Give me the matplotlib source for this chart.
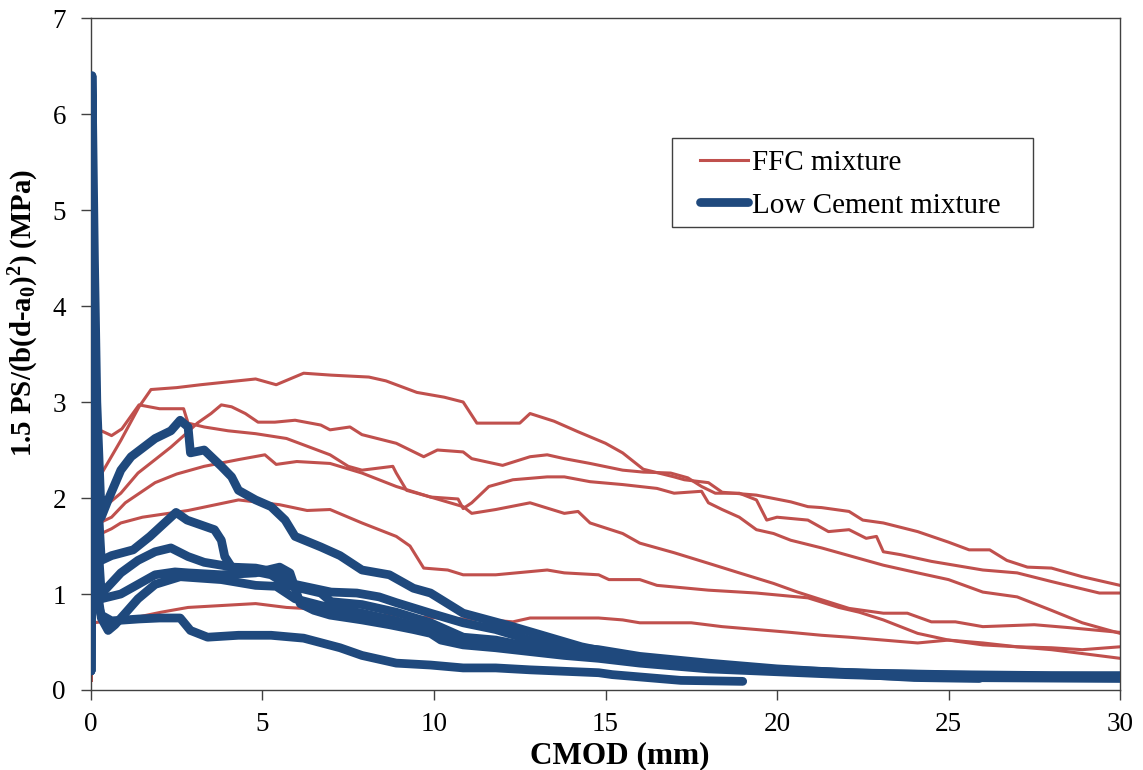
import matplotlib
matplotlib.use("Agg")
import matplotlib.pyplot as plt
from matplotlib.patches import Rectangle
from matplotlib.legend_handler import HandlerLine2D
import numpy as np

plt.rcParams['font.family'] = ['Liberation Serif', 'DejaVu Serif']
plt.rcParams['mathtext.fontset'] = 'custom'
plt.rcParams['mathtext.rm'] = 'Liberation Serif:bold'
plt.rcParams['mathtext.it'] = 'Liberation Serif:bold'
plt.rcParams['mathtext.bf'] = 'Liberation Serif:bold'

# ---------------- data ----------------
ffc1_x = [0, 0.08, 0.3, 0.87, 1.4, 1.75, 2.5, 3.2, 4.0, 4.8, 5.4, 6.2, 7.0, 8.1, 8.6, 9.5, 10.3, 10.85,
          11.25, 12.5, 12.8, 13.5, 14.2, 15.0, 15.5, 16.1, 17.0, 17.3, 18.0, 18.4, 19.4, 20.4, 20.9, 21.3,
          22.1, 22.5, 23.1, 24.1, 25.0, 25.6, 26.2, 26.7, 27.3, 28.0, 28.9, 30.0]
ffc1_y = [0.1, 2.2, 2.25, 2.6, 2.95, 3.13, 3.15, 3.18, 3.21, 3.24, 3.18, 3.3, 3.28, 3.26, 3.22, 3.1, 3.05, 3.0,
          2.78, 2.78, 2.88, 2.8, 2.69, 2.57, 2.47, 2.3, 2.22, 2.19, 2.16, 2.06, 2.03, 1.96, 1.91, 1.90,
          1.86, 1.77, 1.74, 1.65, 1.54, 1.46, 1.46, 1.35, 1.28, 1.27, 1.18, 1.09]

ffc2_x = [0, 0.08, 0.3, 0.6, 0.9, 1.4, 2.0, 2.7, 2.83, 3.3, 4.0, 4.8, 5.7, 6.0, 6.97, 7.5, 7.9, 8.8, 8.9,
          9.2, 9.9, 10.7, 10.85, 11.1, 11.6, 12.3, 13.3, 13.8, 14.55, 15.5, 16.5, 17.0, 17.8, 18.0, 18.4,
          18.9, 19.4, 19.9, 20.4, 21.3, 22.1, 23.1, 24.1, 25.0, 26.0, 27.0, 28.0, 28.9, 30.0]
ffc2_y = [0.1, 2.7, 2.7, 2.65, 2.72, 2.97, 2.93, 2.93, 2.78, 2.74, 2.7, 2.67, 2.62, 2.58, 2.45, 2.33, 2.29,
          2.33, 2.26, 2.08, 2.01, 1.99, 1.89, 1.95, 2.12, 2.19, 2.22, 2.22, 2.17, 2.14, 2.10, 2.05, 2.07,
          1.95, 1.88, 1.80, 1.67, 1.63, 1.56, 1.48, 1.40, 1.30, 1.22, 1.15, 1.02, 0.97, 0.83, 0.70, 0.59]

ffc3_x = [0, 0.08, 0.3, 0.87, 1.37, 1.87, 2.33, 2.74, 3.1, 3.5, 3.8, 4.1, 4.5, 4.87, 5.36, 5.95, 6.7,
          6.97, 7.55, 7.9, 8.9, 9.7, 10.1, 10.85, 11.1, 12.0, 12.8, 13.3, 13.8, 14.55, 15.5, 16.1, 16.9,
          17.4, 17.8, 18.2, 18.9, 19.4, 19.7, 20.0, 20.9, 21.5, 22.1, 22.6, 22.9, 23.1, 23.6, 24.5,
          26.0, 27.0, 28.0, 29.4, 30.0]
ffc3_y = [0.1, 1.9, 1.88, 2.05, 2.26, 2.4, 2.53, 2.66, 2.78, 2.88, 2.97, 2.95, 2.88, 2.79, 2.79, 2.81, 2.76,
          2.71, 2.74, 2.66, 2.57, 2.43, 2.5, 2.48, 2.41, 2.34, 2.43, 2.45, 2.41, 2.36, 2.29, 2.27, 2.26,
          2.21, 2.12, 2.05, 2.05, 1.98, 1.77, 1.80, 1.77, 1.65, 1.67, 1.58, 1.60, 1.44, 1.41, 1.34,
          1.25, 1.22, 1.13, 1.01, 1.01]

ffc4_x = [0, 0.08, 0.3, 0.6, 1.0, 1.87, 2.5, 3.3, 4.3, 5.07, 5.4, 6.0, 6.97, 7.9, 8.9, 9.9, 10.85, 11.1,
          11.8, 12.8, 13.8, 14.2, 14.55, 15.5, 16.0, 17.0, 18.0, 18.9, 19.9, 20.6, 21.3, 22.1, 23.1,
          23.8, 24.5, 25.2, 26.0, 27.5, 28.5, 29.4, 30.0]
ffc4_y = [0.1, 1.72, 1.75, 1.8, 1.95, 2.16, 2.25, 2.33, 2.4, 2.45, 2.35, 2.38, 2.36, 2.26, 2.12, 2.01, 1.91,
          1.84, 1.88, 1.95, 1.84, 1.86, 1.74, 1.63, 1.53, 1.43, 1.32, 1.22, 1.11, 1.02, 0.94, 0.85, 0.80,
          0.80, 0.71, 0.71, 0.66, 0.68, 0.65, 0.62, 0.60]

ffc5_x = [0, 0.08, 0.3, 0.6, 0.87, 1.5, 2.83, 4.3, 5.5, 6.3, 6.97, 7.9, 8.9, 9.3, 9.7, 10.4, 10.85, 11.8,
          13.3, 13.8, 14.8, 15.1, 16.0, 16.5, 18.0, 19.4, 20.9, 21.8, 22.4, 23.1, 24.1, 25.0, 26.0,
          27.0, 28.0, 28.9, 30.0]
ffc5_y = [0.1, 1.6, 1.63, 1.68, 1.74, 1.8, 1.87, 1.98, 1.93, 1.87, 1.88, 1.74, 1.6, 1.5, 1.27, 1.25, 1.2,
          1.2, 1.25, 1.22, 1.2, 1.15, 1.15, 1.09, 1.04, 1.01, 0.96, 0.86, 0.81, 0.73, 0.59, 0.52, 0.49,
          0.45, 0.42, 0.38, 0.33]

ffc6_x = [0, 0.08, 0.5, 1.0, 1.37, 2.04, 2.83, 4.3, 4.8, 5.7, 6.2, 6.97, 7.5, 7.9, 8.4, 9.5, 11.6, 12.3,
          12.8, 14.8, 15.5, 16.0, 17.5, 18.4, 19.4, 20.4, 21.3, 22.1, 23.1, 24.1, 25.0, 26.0, 27.0,
          28.0, 28.9, 30.0]
ffc6_y = [0.1, 0.7, 0.72, 0.74, 0.76, 0.81, 0.86, 0.89, 0.9, 0.86, 0.85, 0.83, 0.78, 0.76, 0.78, 0.76,
          0.73, 0.71, 0.75, 0.75, 0.73, 0.70, 0.70, 0.66, 0.63, 0.60, 0.57, 0.55, 0.52, 0.49, 0.52,
          0.47, 0.45, 0.44, 0.42, 0.45]

lc1_x = [0, 0.03, 0.1, 0.17, 0.3, 0.5, 0.87, 1.17, 1.87, 2.33, 2.6, 2.83, 2.9, 3.3, 3.8, 4.1, 4.3, 4.8,
         5.25, 5.66, 5.95, 6.7, 7.26, 7.9, 8.7, 9.4, 9.9, 10.85, 12.3, 14.3, 16.2, 18.1, 20.1, 22.0,
         25.0, 28.0, 30.0]
lc1_y = [0.2, 6.4, 4.5, 3.0, 1.8, 1.98, 2.29, 2.43, 2.62, 2.7, 2.81, 2.74, 2.47, 2.5, 2.33, 2.22, 2.08,
         1.98, 1.91, 1.77, 1.6, 1.49, 1.4, 1.25, 1.2, 1.06, 1.01, 0.8, 0.66, 0.45, 0.31, 0.24, 0.2,
         0.18, 0.16, 0.15, 0.15]

lc2_x = [0, 0.04, 0.12, 0.3, 0.6, 1.23, 1.72, 2.48, 2.8, 3.6, 3.8, 3.9, 4.1, 4.8, 5.5, 5.95, 7.0, 7.75,
         8.4, 8.9, 9.9, 10.85, 11.8, 12.8, 13.8, 14.8, 16.0, 18.0, 20.0, 22.0, 24.0, 26.0, 28.0, 30.0]
lc2_y = [0.2, 5.0, 2.5, 1.35, 1.4, 1.46, 1.6, 1.85, 1.77, 1.67, 1.56, 1.39, 1.28, 1.27, 1.22, 1.1, 1.02,
         1.01, 0.97, 0.91, 0.8, 0.7, 0.63, 0.52, 0.45, 0.42, 0.35, 0.28, 0.22, 0.18, 0.15, 0.14, 0.14,
         0.14]

lc3_x = [0, 0.04, 0.12, 0.3, 0.87, 1.37, 1.87, 2.33, 2.83, 3.3, 4.3, 5.25, 5.74, 6.7, 7.0, 7.9, 8.9,
         9.9, 10.85, 11.8, 12.8, 14.8, 16.0, 18.0, 20.0, 22.0, 24.0, 25.9]
lc3_y = [0.2, 4.2, 2.0, 1.0, 1.22, 1.35, 1.44, 1.48, 1.39, 1.33, 1.27, 1.2, 1.09, 1.01, 0.92, 0.89, 0.81,
         0.7, 0.55, 0.52, 0.45, 0.36, 0.3, 0.24, 0.2, 0.17, 0.13, 0.12]

lc4_x = [0, 0.04, 0.12, 0.3, 0.87, 1.37, 1.87, 2.45, 2.83, 3.8, 4.8, 5.5, 5.8, 6.1, 6.5, 6.97, 7.9,
         8.7, 9.4, 9.9, 10.2, 10.85, 11.8, 12.8, 13.8, 14.8, 16.0, 18.0, 20.0, 22.0, 25.0, 30.0]
lc4_y = [0.2, 3.5, 1.5, 0.95, 1.0, 1.1, 1.2, 1.23, 1.22, 1.2, 1.22, 1.28, 1.22, 0.9, 0.83, 0.78, 0.73,
         0.68, 0.63, 0.59, 0.52, 0.47, 0.44, 0.40, 0.36, 0.33, 0.28, 0.22, 0.19, 0.16, 0.13, 0.12]

lc5_x = [0, 0.04, 0.12, 0.3, 0.5, 0.7, 1.0, 1.37, 1.87, 2.6, 3.8, 4.8, 5.4, 5.95, 6.7, 7.26, 7.9, 8.9,
         9.9, 10.85, 12.0, 14.0, 16.0, 18.0, 20.0, 23.0, 26.0, 30.0]
lc5_y = [0.2, 3.0, 1.2, 0.75, 0.62, 0.68, 0.8, 0.95, 1.1, 1.18, 1.15, 1.09, 1.08, 0.95, 0.88, 0.84, 0.8,
         0.72, 0.62, 0.52, 0.45, 0.38, 0.3, 0.25, 0.21, 0.17, 0.15, 0.14]

lc6_x = [0, 0.04, 0.12, 0.3, 0.6, 1.4, 2.0, 2.6, 2.9, 3.4, 4.3, 5.25, 6.2, 7.26, 7.9, 8.9, 9.9, 10.85,
         11.8, 12.8, 14.8, 15.2, 17.2, 19.0]
lc6_y = [0.2, 2.5, 1.0, 0.78, 0.72, 0.74, 0.75, 0.75, 0.62, 0.55, 0.57, 0.57, 0.54, 0.44, 0.36, 0.28,
         0.26, 0.23, 0.23, 0.21, 0.18, 0.16, 0.10, 0.09]

ffc_curves = [(ffc1_x, ffc1_y), (ffc2_x, ffc2_y), (ffc3_x, ffc3_y),
              (ffc4_x, ffc4_y), (ffc5_x, ffc5_y), (ffc6_x, ffc6_y)]
lc_curves = [(lc1_x, lc1_y), (lc2_x, lc2_y), (lc3_x, lc3_y),
             (lc4_x, lc4_y), (lc5_x, lc5_y), (lc6_x, lc6_y)]

series_labels = ["FFC mixture", "Low Cement mixture"]
x_ticks = [0, 5, 10, 15, 20, 25, 30]
y_ticks = [0, 1, 2, 3, 4, 5, 6, 7]

RED = "#C0504D"
BLUE = "#1F497D"
SPINE = "#404040"

# ---------------- figure ----------------
fig = plt.figure(figsize=(11.43, 7.70), dpi=100)
ax = fig.add_axes([0.0796, 0.1039, 0.9003, 0.8727])

for i, (xs, ys) in enumerate(ffc_curves):
    ax.plot(xs, ys, color=RED, lw=2.2, zorder=2,
            label=series_labels[0] if i == 0 else None)
for i, (xs, ys) in enumerate(lc_curves):
    ax.plot(xs, ys, color=BLUE, lw=6.3, zorder=3, solid_capstyle='round',
            solid_joinstyle='round',
            label=series_labels[1] if i == 0 else None)

ax.set_xlim(0, 30)
ax.set_ylim(0, 7)
ax.set_xticks(x_ticks)
ax.set_yticks(y_ticks)
ax.tick_params(axis='both', direction='out', length=7, width=1, colors=SPINE,
               labelcolor='black', labelsize=19.5, pad=11)
ax.tick_params(axis='x', pad=8.5)
for s in ax.spines.values():
    s.set_color(SPINE)
    s.set_linewidth(1.0)

ax.set_xlabel("CMOD (mm)", fontsize=22.5, fontweight='bold')
ax.xaxis.set_label_coords(0.514, -0.076)
ax.set_ylabel(r"1.5 PS/(b(d-a$_0$)$^2$) (MPa)", fontsize=20.8, fontweight='bold')
ax.yaxis.set_label_coords(-0.049, 0.561)


class LeadHandler(HandlerLine2D):
    """Line handle that starts a little to the right inside its box."""
    def __init__(self, lead, **kw):
        super().__init__(**kw)
        self.lead = lead

    def create_artists(self, legend, orig_handle, xdescent, ydescent, width, height,
                       fontsize, trans):
        arts = super().create_artists(legend, orig_handle, xdescent, ydescent, width,
                                      height, fontsize, trans)
        for a in arts:
            xd = np.asarray(a.get_xdata(), float)
            if len(xd) >= 2:
                a.set_xdata(np.linspace(xd[0] + self.lead * fontsize, xd[-1], len(xd)))
        return arts


# legend frame (as in the reference: a plain rectangle)
ax.add_patch(Rectangle((0.565, 0.689), 0.35, 0.132, transform=ax.transAxes,
                       facecolor='white', edgecolor=SPINE, lw=1.0, zorder=4))
handles, labels = ax.get_legend_handles_labels()
leg = ax.legend(handles, labels, loc='upper left', bbox_to_anchor=(0.565, 0.8036),
                fontsize=21, frameon=False, borderpad=0, borderaxespad=0,
                handlelength=2.6, handletextpad=0.14, labelspacing=0.54,
                handler_map={h: LeadHandler(0.95) for h in handles})
leg.set_zorder(5)

fig.savefig("out.png", dpi=100)
